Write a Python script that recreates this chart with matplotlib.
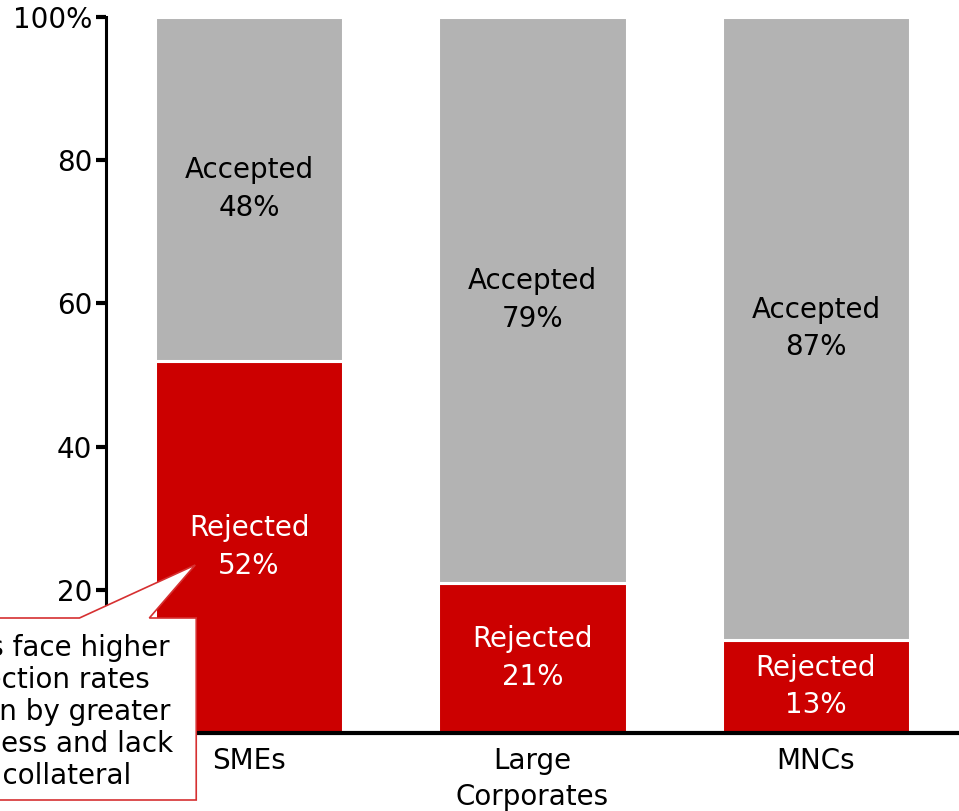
import matplotlib.pyplot as plt
import numpy as np
from matplotlib.patches import Polygon

categories = ["SMEs", "Large\nCorporates", "MNCs"]
rejected = [52, 21, 13]
accepted = [48, 79, 87]
yticks = [20, 40, 60, 80, 100]
ytick_labels = ["20", "40", "60", "80", "100%"]
note = "SMEs face higher\nrejection rates\ndriven by greater\nriskiness and lack\nof collateral"

RED = "#cc0000"
GREY = "#b3b3b3"


def main():
    plt.rcParams["font.family"] = ["DejaVu Sans"]

    fig = plt.figure(figsize=(9.59, 8.11), dpi=100)
    ax = fig.add_axes([106 / 959, 78 / 811, 1 - 106 / 959, (733 - 17) / 811])

    x = np.arange(len(categories))
    width = 0.665
    ax.bar(x, rejected, width, color=RED, edgecolor="white", linewidth=2.2, zorder=2)
    ax.bar(x, accepted, width, bottom=rejected, color=GREY, edgecolor="white",
           linewidth=2.2, zorder=2)

    for xi, r, a in zip(x, rejected, accepted):
        ax.text(xi, r / 2, "Rejected\n%d%%" % r, ha="center", va="center",
                color="white", fontsize=20, linespacing=1.45, zorder=3)
        ax.text(xi, r + a / 2, "Accepted\n%d%%" % a, ha="center", va="center",
                color="black", fontsize=20, linespacing=1.45, zorder=3)

    ax.set_xlim(-0.505, 2.505)
    ax.set_ylim(0, 100)
    ax.set_yticks(yticks)
    ax.set_yticklabels(ytick_labels, fontsize=20)
    ax.set_xticks(x)
    ax.set_xticklabels(categories, fontsize=20, linespacing=1.37)
    ax.tick_params(axis="x", length=0, pad=10)
    ax.tick_params(axis="y", length=7, width=3, pad=3)

    for side in ["top", "right"]:
        ax.spines[side].set_visible(False)
    ax.spines["left"].set_linewidth(2.2)
    ax.spines["bottom"].set_linewidth(3)
    ax.spines["left"].set_zorder(4)
    ax.spines["bottom"].set_zorder(4)

    # callout box with a wedge pointing at the SME rejection label
    px = lambda v: (v - 248) / 284
    py = lambda v: (733 - v) / 7.16
    verts = [
        (px(-120), py(618)), (px(78), py(618)), (px(194), py(565)),
        (px(148), py(618)), (px(195), py(618)), (px(195), py(800)),
        (px(-120), py(800)),
    ]
    callout = Polygon(verts, closed=True, facecolor="white", edgecolor="#d63031",
                      linewidth=1.2, zorder=5, clip_on=False)
    ax.add_patch(callout)
    ax.text(px(48), py(712), note, ha="center", va="center", fontsize=20,
            linespacing=1.19, zorder=6, clip_on=False)

    fig.savefig("out.png", dpi=100)


if __name__ == "__main__":
    main()
